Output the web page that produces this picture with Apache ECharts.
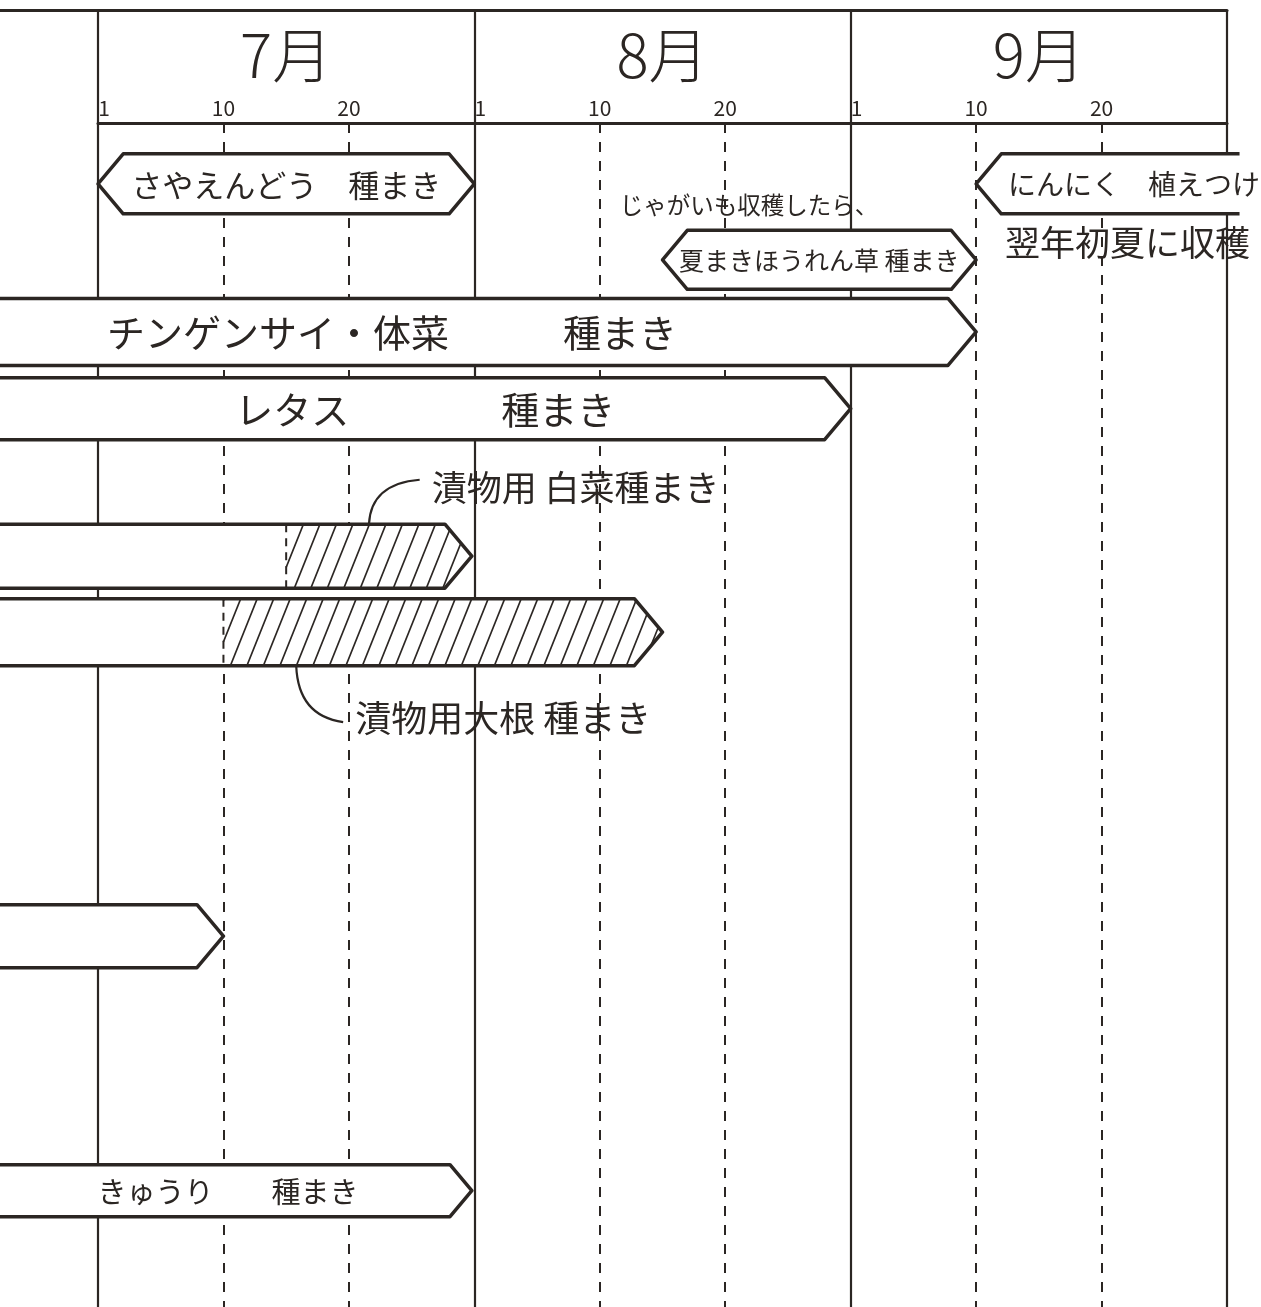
<!DOCTYPE html>
<html><head><meta charset="utf-8">
<script src="https://cdn.jsdelivr.net/npm/echarts@6/dist/echarts.min.js"></script>
<style>html,body{margin:0;padding:0;background:#fff}#c{width:1261px;height:1307px}</style>
</head><body><div id="c"></div><script>
// ---- data (days counted in 30-day months: 0 = 7/1, 30 = 8/1, 60 = 9/1, 90 = 10/1)
const monthLabels = ['7月', '8月', '9月'];
const monthStartDays = [0, 30, 60];
const tickLabels = ['1', '10', '20'];

const taskLabels = ['さやえんどう　種まき', '夏まきほうれん草 種まき', 'にんにく　植えつけ',
  'チンゲンサイ・体菜　　　種まき', 'レタス　　　　種まき', '', '', '', 'きゅうり　　種まき'];
const taskStart = [0, 45, 70, -8, -8, -8, -8, -8, -8];     // < 0 : continues from June
const taskEnd   = [30, 70, 91, 70, 60, 29.8, 45, 10, 29.8]; // > 90 : continues past September
const taskRow   = [1, 2, 1, 2.95, 3.96, 5.9, 6.9, 10.9, 14.25];
const taskArrow = ['both', 'both', 'left', 'right', 'right', 'right', 'right', 'right', 'right'];
const hatchFrom = [null, null, null, null, null, 15, 10, null, null];

const noteTexts = ['じゃがいも収穫したら、', '翌年初夏に収穫', '漬物用 白菜種まき', '漬物用大根 種まき'];
const noteDay   = [41.6, 72.3, 26.6, 20.5];
const noteRow   = [1.28, 1.78, 5.0, 8.03];
const noteTask  = [null, null, 5, 6];      // bar the leader curve points to
const noteTaskDay = [null, null, 21.6, 15.8];

// ---- styles
const INK = '#2b2623';
const FONT = '"Noto Sans CJK JP", "Noto Sans", sans-serif';
const barStyle = {
  0: {h: 60, fs: 31}, 1: {h: 59, fs: 25}, 2: {h: 60, fs: 28, alignLeft: 32},
  3: {h: 67, fs: 38, dx: -96}, 4: {h: 62, fs: 38, dx: 0}, 5: {h: 64}, 6: {h: 67},
  7: {h: 63}, 8: {h: 52, fs: 29, dx: -8}
};
const noteStyle = {0: {fs: 23.5}, 1: {fs: 35}, 2: {fs: 35}, 3: {fs: 36}};

function clipSeg(A, B, poly) {
  let area = 0;
  for (let i = 0; i < poly.length; i++) {
    const p = poly[i], q = poly[(i + 1) % poly.length];
    area += p[0] * q[1] - q[0] * p[1];
  }
  const sgn = area > 0 ? 1 : -1;
  let t0 = 0, t1 = 1;
  const dx = B[0] - A[0], dy = B[1] - A[1];
  for (let i = 0; i < poly.length; i++) {
    const p = poly[i], q = poly[(i + 1) % poly.length];
    const ex = q[0] - p[0], ey = q[1] - p[1];
    const f0 = sgn * (ex * (A[1] - p[1]) - ey * (A[0] - p[0]));
    const fd = sgn * (ex * dy - ey * dx);
    if (Math.abs(fd) < 1e-9) { if (f0 < 0) return null; continue; }
    const t = -f0 / fd;
    if (fd > 0) t0 = Math.max(t0, t); else t1 = Math.min(t1, t);
    if (t0 > t1) return null;
  }
  return [[A[0] + t0 * dx, A[1] + t0 * dy], [A[0] + t1 * dx, A[1] + t1 * dy]];
}

function renderBar(params, api) {
  const i = api.value(3);
  const st = barStyle[i] || {};
  const H = st.h || 63;
  const s = api.value(0), e = api.value(1), row = api.value(2);
  const pS = api.coord([s, row]), pE = api.coord([e, row]);
  const xs = pS[0], xe = pE[0], ym = pS[1], yt = ym - H / 2, yb = ym + H / 2;
  const T = H * 0.42;
  const kind = taskArrow[i];
  const openL = s < 0, openR = e > 90;
  let pts, closed;
  if (kind === 'both') {
    pts = [[xs + T, yt], [xe - T, yt], [xe, ym], [xe - T, yb], [xs + T, yb], [xs, ym]]; closed = true;
  } else if (kind === 'left') {
    pts = [[xe, yt], [xs + T, yt], [xs, ym], [xs + T, yb], [xe, yb]]; closed = !openR;
  } else {
    pts = [[xs, yt], [xe - T, yt], [xe, ym], [xe - T, yb], [xs, yb]]; closed = !openL;
  }
  const children = [{type: 'polygon', shape: {points: pts}, style: {fill: '#fff'}}];
  if (hatchFrom[i] != null) {
    const hx = api.coord([hatchFrom[i], row])[0];
    const hp = [[hx, yt], [xe - T, yt], [xe, ym], [xe - T, yb], [hx, yb]];
    const k = 0.4, step = 16.5;
    for (let c = hx - k * H; c < xe + 5; c += step) {
      const seg = clipSeg([c, yb + 2], [c + k * (H + 4), yt - 2], hp);
      if (seg) children.push({type: 'line', shape: {x1: seg[0][0], y1: seg[0][1], x2: seg[1][0], y2: seg[1][1]},
        style: {stroke: INK, lineWidth: 1.6}});
    }
    children.push({type: 'line', shape: {x1: hx, y1: yt, x2: hx, y2: yb},
      style: {stroke: INK, lineWidth: 2, lineDash: [8, 6]}});
  }
  children.push({type: closed ? 'polygon' : 'polyline', shape: {points: pts},
    style: {fill: null, stroke: INK, lineWidth: 3.5, lineJoin: 'round'}});
  if (taskLabels[i]) {
    const fs = st.fs || 30;
    let tx, align;
    if (st.alignLeft != null) { tx = xs + st.alignLeft; align = 'left'; }
    else {
      const vis0 = Math.max(xs, 0);
      tx = (vis0 + xe) / 2 + (st.dx || 0); align = 'center';
    }
    children.push({type: 'text', style: {text: taskLabels[i], x: tx, y: ym + 1, align: align,
      verticalAlign: 'middle', font: fs + 'px ' + FONT, fill: INK}});
  }
  return {type: 'group', children: children};
}

function renderNote(params, api) {
  const i = api.value(2);
  const p = api.coord([api.value(0), api.value(1)]);
  const fs = (noteStyle[i] || {}).fs || 30;
  const children = [{type: 'text', style: {text: noteTexts[i], x: p[0], y: p[1], align: 'left',
    verticalAlign: 'middle', font: fs + 'px ' + FONT, fill: INK}}];
  if (noteTask[i] != null) {
    const t = noteTask[i];
    const H = (barStyle[t] || {}).h || 63;
    const b = api.coord([noteTaskDay[i], taskRow[t]]);
    const above = p[1] < b[1];
    const by = above ? b[1] - H / 2 : b[1] + H / 2;
    const ex = p[0] - 12, ey = above ? p[1] - 8 : p[1] + 4;
    children.push({type: 'bezierCurve', shape: {x1: b[0], y1: by, x2: ex, y2: ey,
      cpx1: b[0] + 2, cpy1: ey + (above ? 4 : -6)},
      style: {fill: null, stroke: INK, lineWidth: 2.2}});
  }
  return {type: 'group', children: children};
}

function renderMonth(params, api) {
  const i = api.value(2);
  const p = api.coord([api.value(0), api.value(1)]);
  return {type: 'text', style: {text: monthLabels[i], x: p[0], y: p[1], align: 'center',
    verticalAlign: 'middle', font: '300 60px ' + FONT, fill: INK}};
}

const chart = echarts.init(document.getElementById('c'), null, {renderer: 'canvas'});
chart.setOption({
  backgroundColor: '#fff',
  animation: false,
  grid: [
    {left: 98, right: 34, top: 10, height: 113},
    {left: 98, right: 34, top: 123, bottom: 0},
    {left: 0, width: 98, top: 10, height: 113}
  ],
  xAxis: [
    {gridIndex: 0, type: 'value', min: 0, max: 90, interval: 30, position: 'top',
      axisLine: {show: true, onZero: false, lineStyle: {color: INK, width: 3}}, axisTick: {show: false},
      axisLabel: {show: false},
      splitLine: {show: true, showMinLine: true, showMaxLine: true, lineStyle: {color: INK, width: 2.2}}},
    {gridIndex: 1, type: 'value', min: 0, max: 90, interval: 10, position: 'top',
      axisLine: {show: true, onZero: false, lineStyle: {color: INK, width: 3}}, axisTick: {show: false},
      axisLabel: {show: true, showMaxLabel: false, margin: 4, color: INK, fontSize: 21, fontFamily: FONT,
        formatter: v => (v % 30 === 0 ? '{one|' + tickLabels[0] + '}' : tickLabels[(v % 30) / 10]),
        rich: {one: {padding: [0, 0, 0, 12], fontSize: 21, color: INK, fontFamily: FONT}}},
      splitLine: {show: true, showMinLine: false, showMaxLine: false, lineStyle: {color: INK, width: 2, type: [10, 9]}}},
    {gridIndex: 1, type: 'value', min: 0, max: 90, interval: 30, position: 'top',
      axisLine: {show: false, onZero: false}, axisTick: {show: false}, axisLabel: {show: false},
      splitLine: {show: true, showMinLine: true, showMaxLine: true, lineStyle: {color: INK, width: 2.2}}},
    {gridIndex: 2, type: 'value', min: 0, max: 1, position: 'top',
      axisLine: {show: true, onZero: false, lineStyle: {color: INK, width: 3}}, axisTick: {show: false},
      axisLabel: {show: false}, splitLine: {show: false}}
  ],
  yAxis: [
    {gridIndex: 0, type: 'value', min: 0, max: 1, show: false, splitLine: {show: false}},
    {gridIndex: 1, type: 'value', min: 0.2, max: 15.78, inverse: true, show: false, splitLine: {show: false}},
    {gridIndex: 2, type: 'value', min: 0, max: 1, show: false, splitLine: {show: false}}
  ],
  series: [
    {type: 'custom', xAxisIndex: 0, yAxisIndex: 0, renderItem: renderMonth, clip: false,
      data: monthLabels.map((m, i) => [monthStartDays[i] + 15, 0.6, i]), encode: {x: 0, y: 1}},
    {type: 'custom', xAxisIndex: 1, yAxisIndex: 1, renderItem: renderBar, clip: false, z: 5,
      data: taskLabels.map((t, i) => [taskStart[i], taskEnd[i], taskRow[i], i]), encode: {x: [0, 1], y: 2}},
    {type: 'custom', xAxisIndex: 1, yAxisIndex: 1, renderItem: renderNote, clip: false, z: 6,
      data: noteTexts.map((t, i) => [noteDay[i], noteRow[i], i]), encode: {x: 0, y: 1}}
  ]
});
</script></body></html>
